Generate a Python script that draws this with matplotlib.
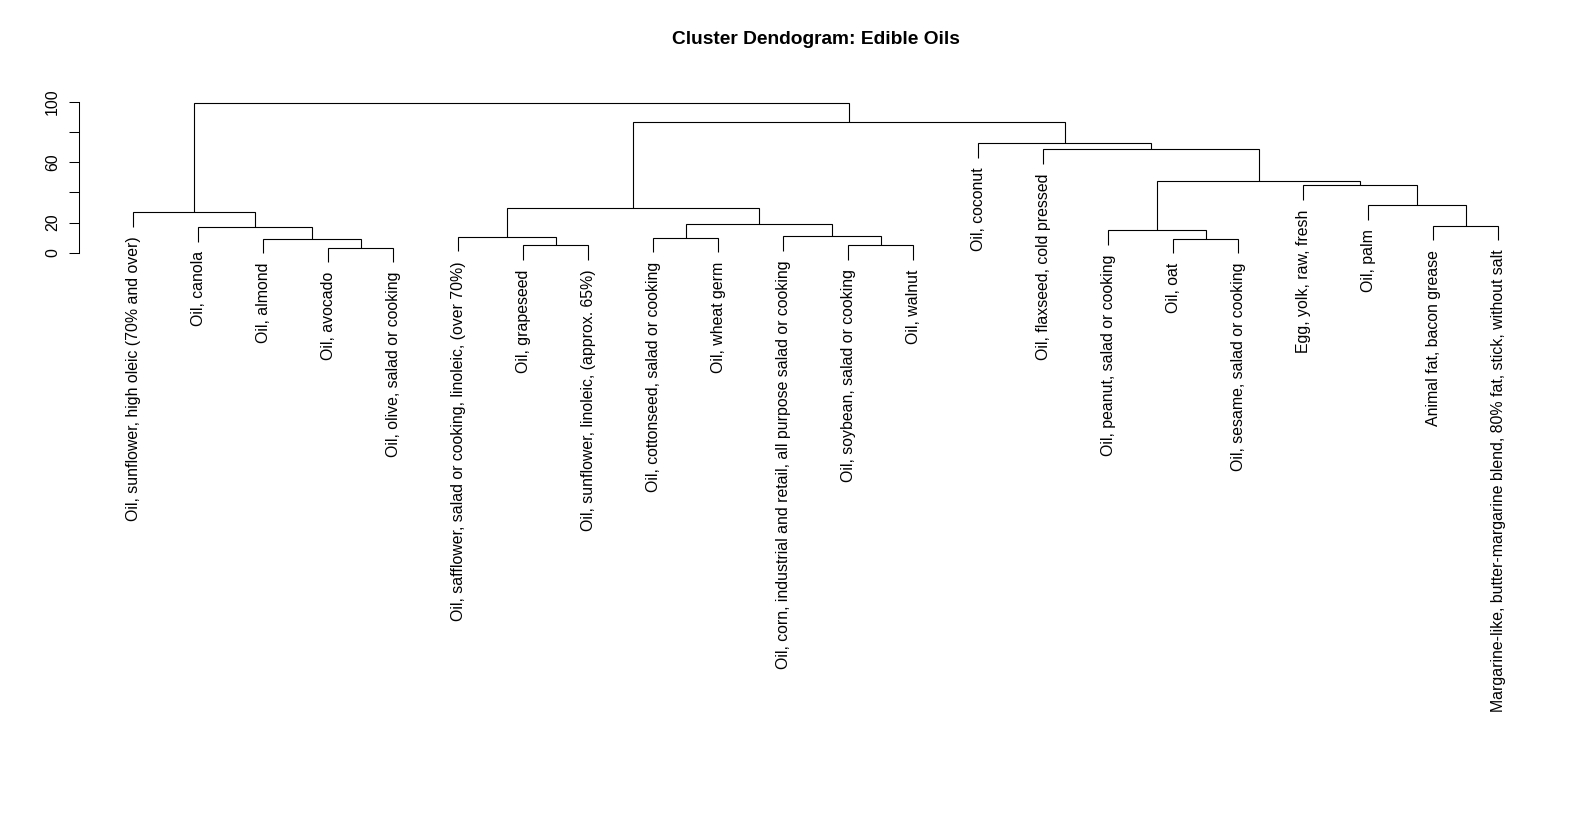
import matplotlib
matplotlib.use("Agg")
import matplotlib.pyplot as plt

plt.rcParams["font.family"] = ["Liberation Sans", "DejaVu Sans"]

TITLE = "Cluster Dendogram: Edible Oils"

# leaves in display order
LABELS = [
    "Oil, sunflower, high oleic (70% and over)",
    "Oil, canola",
    "Oil, almond",
    "Oil, avocado",
    "Oil, olive, salad or cooking",
    "Oil, safflower, salad or cooking, linoleic, (over 70%)",
    "Oil, grapeseed",
    "Oil, sunflower, linoleic, (approx. 65%)",
    "Oil, cottonseed, salad or cooking",
    "Oil, wheat germ",
    "Oil, corn, industrial and retail, all purpose salad or cooking",
    "Oil, soybean, salad or cooking",
    "Oil, walnut",
    "Oil, coconut",
    "Oil, flaxseed, cold pressed",
    "Oil, peanut, salad or cooking",
    "Oil, oat",
    "Oil, sesame, salad or cooking",
    "Egg, yolk, raw, fresh",
    "Oil, palm",
    "Animal fat, bacon grease",
    "Margarine-like, butter-margarine blend, 80% fat, stick, without salt",
]

# hclust-style merge table: negative = leaf (1-based), positive = earlier merge
MERGE_LEFT = [-4, -12, -7, -17, -3, -9, -6, -11, -16, -2, -21,
              6, -1, 7, -20, -19, 9, -15, -14, 14, 13]
MERGE_RIGHT = [-5, -13, -8, -18, 1, -10, 3, 2, 4, 5, -22,
               8, 10, 12, 11, 15, 16, 17, 18, 19, 20]
HEIGHTS = [3.3, 4.9, 5.0, 9.1, 9.3, 9.9, 10.4, 10.9, 14.8, 17.0, 17.9,
           19.2, 26.7, 29.6, 31.4, 44.6, 47.5, 68.5, 72.5, 86.4, 99.3]

Y_TICKS = [0, 20, 40, 60, 80, 100]
Y_TICK_LABELS = ["0", "20", "", "60", "", "100"]

# layout (pixels of the 1594x823 canvas)
W, H = 1594, 823
LEAF0_PX, LEAF_STEP_PX = 133.3, 65.0
ZERO_PX, PX_PER_UNIT = 252.7, 1.51
AXIS_PX = 79.0
FS = 11.4

fig = plt.figure(figsize=(W / 100, H / 100), dpi=100)
ax = fig.add_axes([0, 0, 1, 1])
ax.set_xlim(-LEAF0_PX / LEAF_STEP_PX, (W - LEAF0_PX) / LEAF_STEP_PX)
ax.set_ylim((ZERO_PX - H) / PX_PER_UNIT, ZERO_PX / PX_PER_UNIT)

hang = 0.1 * (max(HEIGHTS) - min(HEIGHTS))
label_gap = 9.5 / PX_PER_UNIT

merge_x = []
for left, right, h in zip(MERGE_LEFT, MERGE_RIGHT, HEIGHTS):
    pts = []
    for child in (left, right):
        if child < 0:
            i = -child - 1
            y_leaf = h - hang
            pts.append((i, y_leaf))
            ax.text(i, y_leaf - label_gap, LABELS[i], rotation=90,
                    ha="center", va="top", fontsize=FS)
        else:
            pts.append((merge_x[child - 1], HEIGHTS[child - 1]))
    (x1, y1), (x2, y2) = pts
    ax.plot([x1, x1, x2, x2], [y1, h, h, y2], color="black", lw=0.8,
            solid_joinstyle="miter", solid_capstyle="butt")
    merge_x.append((x1 + x2) / 2)

# y axis
for side in ("top", "right", "bottom"):
    ax.spines[side].set_visible(False)
ax.spines["left"].set_position(("data", (AXIS_PX - LEAF0_PX) / LEAF_STEP_PX))
ax.spines["left"].set_bounds(0, 100)
ax.spines["left"].set_linewidth(0.75)
ax.set_xticks([])
ax.set_yticks(Y_TICKS)
ax.set_yticklabels(Y_TICK_LABELS, rotation=90, va="center", fontsize=FS)
ax.tick_params(axis="y", length=7, width=0.75, pad=6.5)

ax.text((len(LABELS) - 1) / 2, (ZERO_PX - 40) / PX_PER_UNIT, TITLE,
        ha="center", va="center", fontsize=13.8, fontweight="bold")

fig.savefig("out.png", dpi=100)
